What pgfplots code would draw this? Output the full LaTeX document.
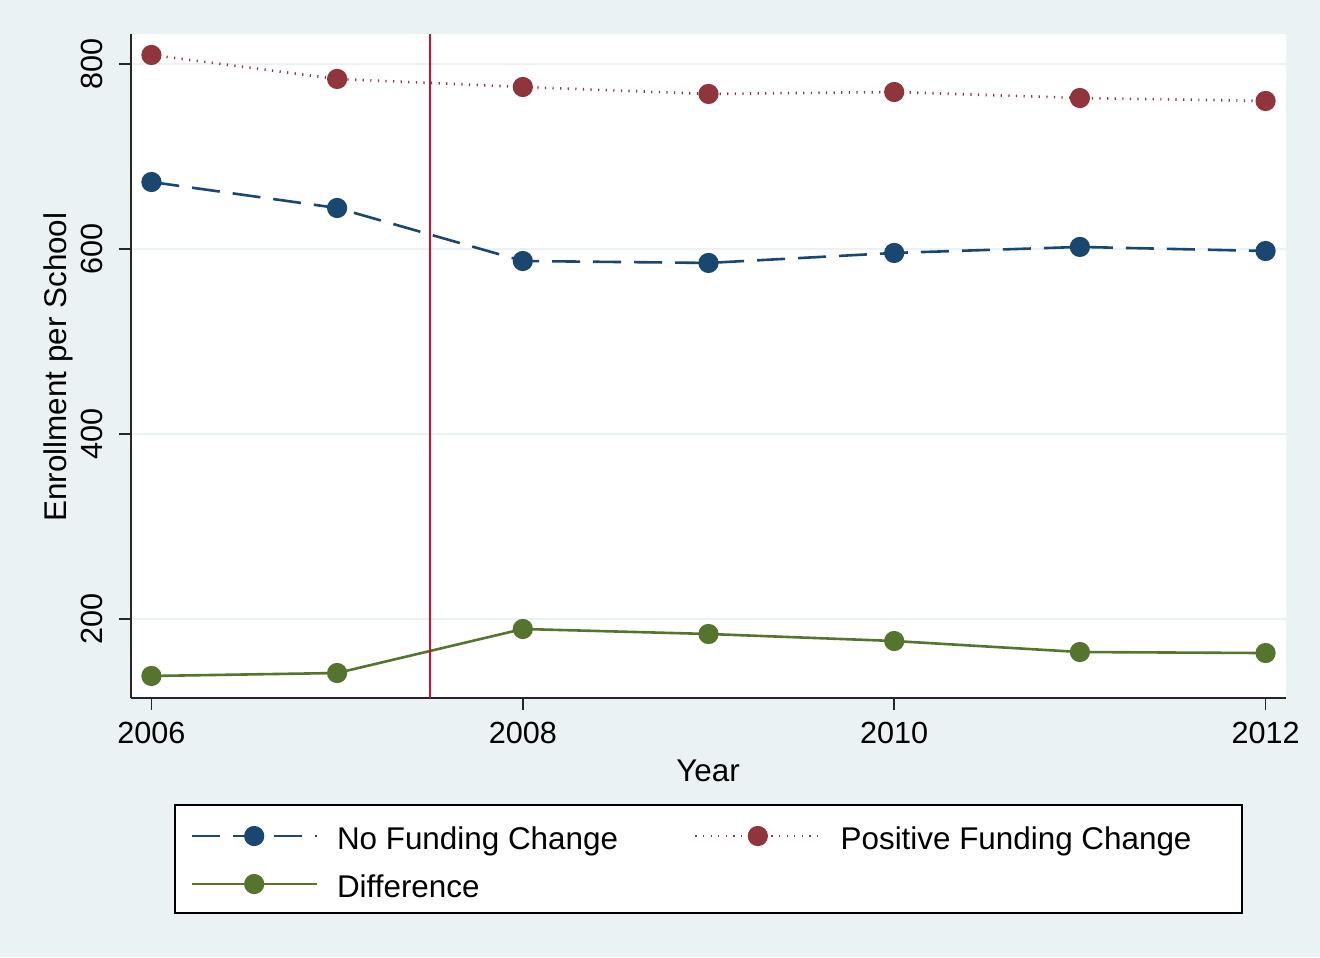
\documentclass[border=0pt]{standalone}
\usepackage{pgfplots}
\pgfplotsset{compat=1.18}
\usepackage{fontspec}
\setmainfont{Liberation Sans}
\definecolor{bg}{HTML}{EAF2F3}
\definecolor{snavy}{HTML}{1A476F}
\definecolor{smaroon}{HTML}{90353B}
\definecolor{sgreen}{HTML}{55752F}
\definecolor{vred}{RGB}{200,16,60}
\begin{document}
\begin{tikzpicture}
\fill[bg] (0,0) rectangle (660pt,478.5pt);
\filldraw[fill=white, draw=black, line width=0.9pt] (87.5pt,22pt) rectangle (621pt,76pt);
\begin{axis}[
  at={(65.5pt,129.5pt)}, anchor=south west,
  scale only axis, width=577.5pt, height=332pt,
  xmin=2005.89, xmax=2012.11, ymin=114.6, ymax=832.4,
  axis lines*=left, axis line style={-, line width=0.9pt, black!85},
  axis background/.style={fill=white},
  xtick={2006,2008,2010,2012}, ytick={200,400,600,800},
  /pgf/number format/1000 sep={},
  /pgf/number format/assume math mode=true,
  tick align=outside, major tick length=6pt,
  tick style={line width=0.9pt, black!85},
  tick label style={font=\fontsize{15.3}{18}\selectfont},
  yticklabel style={rotate=90, anchor=south},
  yticklabel shift=4.5pt,
  xticklabel shift=2.5pt,
  ymajorgrids, major grid style={bg, line width=1pt},
  xlabel={Year},
  xlabel style={at={(axis description cs:0.4996,-0.1100)}, anchor=center, font=\fontsize{15.7}{18}\selectfont},
  ylabel={Enrollment per School},
  ylabel style={at={(axis description cs:-0.0625,0.4985)}, anchor=center, font=\fontsize{15.7}{18}\selectfont},
  legend columns=2, legend cell align=left,
  legend image code/.code={\draw[mark repeat=2, mark phase=2, #1] plot coordinates {(0pt,0pt) (31.25pt,0pt) (62.5pt,0pt)};},
  legend style={draw=none, fill=none, at={(0.05108,-0.2440)}, anchor=west,
    font=\fontsize{15.7}{18}\selectfont, inner sep=0pt,
    /tikz/every odd column/.style={column sep=9.5pt},
    /tikz/every even column/.style={column sep=38pt},
    nodes={inner xsep=0pt, inner ysep=0pt, text height=14pt, text depth=1pt},
    row sep=9pt},
]
\addplot[snavy, line width=1.3pt, dash pattern=on 14pt off 6.5pt, mark=*, mark size=4.4pt, mark options={solid, fill=snavy, draw=snavy}]
  coordinates {(2006,672.4) (2007,644.3) (2008,587) (2009,584.9) (2010,595.7) (2011,602.2) (2012,597.8)};
\addlegendentry{No Funding Change}
\addplot[smaroon, line width=1.3pt, dash pattern=on 0.6pt off 3.2pt, mark=*, mark size=4.4pt, mark options={solid, fill=smaroon, draw=smaroon}]
  coordinates {(2006,809.7) (2007,783.8) (2008,775.1) (2009,767.6) (2010,769.7) (2011,763.2) (2012,760)};
\addlegendentry{Positive Funding Change}
\addplot[sgreen, line width=1.3pt, mark=*, mark size=4.4pt, mark options={solid, fill=sgreen, draw=sgreen}]
  coordinates {(2006,138.4) (2007,141.6) (2008,189.2) (2009,183.8) (2010,176.2) (2011,164.3) (2012,163.2)};
\addlegendentry{Difference}
\addplot[vred, line width=1.1pt, forget plot] coordinates {(2007.5,114.6) (2007.5,832.4)};
\end{axis}
\end{tikzpicture}
\end{document}
